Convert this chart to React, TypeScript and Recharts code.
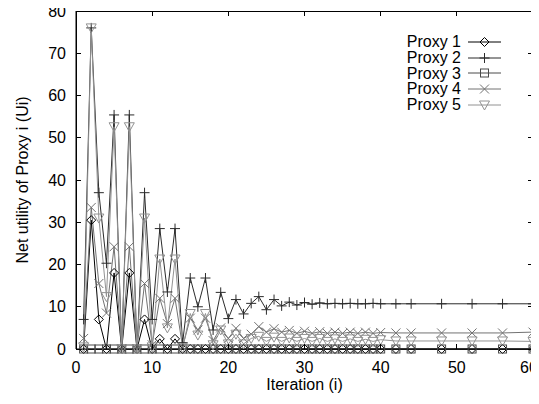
import React from 'react';
import { LineChart, Line, XAxis, YAxis, Label, ReferenceArea } from 'recharts';

// iterations sampled in the run (denser at the start)
const iterations = [
  1, 2, 3, 4, 5, 6, 7, 8, 9, 10, 11, 12, 13, 14, 15, 16, 17, 18, 19, 20,
  21, 22, 23, 24, 25, 26, 27, 28, 29, 30, 31, 32, 33, 34, 35, 36, 37, 38, 39, 40,
  42, 44, 48, 52, 56, 60,
];

const proxy1 = [
  0, 30.5, 7, 0, 18, 0, 18, 0, 7, 0, 2.4, 0, 2.4, 0, 0, 0, 0, 0, 0, 0,
  0, 0, 0, 0, 0, 0, 0, 0, 0, 0, 0, 0, 0, 0, 0, 0, 0, 0, 0, 0,
  0, 0, 0, 0, 0, 0,
];
const proxy2 = [
  7, 76, 37, 20.3, 55.4, 0, 55.4, 0, 37, 7, 28.5, 13.5, 28.5, 1.5, 16.8, 10, 16.8, 4.5, 13.4, 7.2,
  11.7, 8.3, 10.8, 12.4, 9.3, 11.7, 10.2, 11.1, 10.4, 11, 10.6, 10.9, 10.7, 10.8, 10.7, 10.8, 10.7, 10.7, 10.8, 10.7,
  10.7, 10.7, 10.7, 10.7, 10.7, 10.7,
];
const proxy3 = [
  0, 0, 0, 0, 0, 0, 0, 0, 0, 0, 0, 0, 0, 0, 0, 0, 0, 0, 0, 0,
  0, 0, 0, 0, 0, 0, 0, 0, 0, 0, 0, 0, 0, 0, 0, 0, 0, 0, 0, 0,
  0, 0, 0, 0, 0, 0,
];
const proxy4 = [
  2.5, 33.5, 15.5, 8.5, 24.2, 0, 24.2, 0, 15.5, 1, 12, 6, 12, 0.5, 7.3, 4.5, 7.3, 2, 5, 2.5,
  4.9, 2.5, 3.5, 5.3, 4, 4.8, 4, 4.4, 3.7, 4.2, 3.7, 4.1, 3.7, 4, 3.7, 4, 3.7, 4, 3.7, 3.9,
  3.8, 3.8, 3.8, 3.8, 3.8, 4,
];
const proxy5 = [
  0.5, 76, 31, 12.4, 52.6, 0, 52.6, 0, 31, 0.5, 21.3, 5, 21.3, 0.3, 8.4, 3.3, 8.4, 1, 4.5, 1.2,
  3.5, 1.2, 2.5, 3, 1.8, 2.8, 1.8, 2.6, 1.8, 2.5, 1.8, 2.5, 1.8, 2.4, 1.8, 2.4, 1.8, 2.3, 1.8, 2.2,
  1.9, 1.9, 1.9, 1.9, 1.9, 1.8,
];

const xTicks = [0, 10, 20, 30, 40, 50, 60];
const yTicks = [0, 10, 20, 30, 40, 50, 60, 70, 80];

const data = iterations.map((it, i) => ({
  it,
  p1: proxy1[i],
  p2: proxy2[i],
  p3: proxy3[i],
  p4: proxy4[i],
  p5: proxy5[i],
}));

const series = [
  { key: 'p1', name: 'Proxy 1', shape: 'diamond', color: '#000000' },
  { key: 'p2', name: 'Proxy 2', shape: 'plus', color: '#2b2b2b' },
  { key: 'p3', name: 'Proxy 3', shape: 'square', color: '#4a4a4a' },
  { key: 'p4', name: 'Proxy 4', shape: 'cross', color: '#727272' },
  { key: 'p5', name: 'Proxy 5', shape: 'triangle', color: '#929292' },
];

const W = 539;
const H = 404;
const MARGIN = { top: 11, right: 6, left: 0, bottom: 0 };
const PLOT_TOP = MARGIN.top;
const PLOT_RIGHT = W - MARGIN.right;
const FONT = '"Liberation Sans", Arial, Helvetica, sans-serif';
const TICK_LEN = 5;
const X_GAP = 8;
const Y_GAP = 10;

const Marker = ({ shape, cx, cy, color }: any) => {
  if (cx == null || cy == null) return null;
  switch (shape) {
    case 'diamond':
      return (
        <polygon
          points={`${cx},${cy - 4.5} ${cx + 4.5},${cy} ${cx},${cy + 4.5} ${cx - 4.5},${cy}`}
          fill="none" stroke={color} strokeWidth={1}
        />
      );
    case 'plus':
      return <path d={`M${cx - 5},${cy}H${cx + 5}M${cx},${cy - 5}V${cy + 5}`} stroke={color} strokeWidth={1} />;
    case 'square':
      return <rect x={cx - 4} y={cy - 4} width={8} height={8} fill="none" stroke={color} strokeWidth={1} />;
    case 'cross':
      return (
        <path
          d={`M${cx - 4.5},${cy - 4.5}L${cx + 4.5},${cy + 4.5}M${cx - 4.5},${cy + 4.5}L${cx + 4.5},${cy - 4.5}`}
          stroke={color} strokeWidth={1}
        />
      );
    default:
      return (
        <polygon
          points={`${cx - 5},${cy - 4} ${cx + 5},${cy - 4} ${cx},${cy + 5}`}
          fill="none" stroke={color} strokeWidth={1}
        />
      );
  }
};

// bottom tick: inward tick, mirrored tick on the top edge, and the label
const BottomTick = ({ x, y, payload }: any) => (
  <g shapeRendering="crispEdges">
    <line x1={x} x2={x} y1={y - X_GAP} y2={y - X_GAP - TICK_LEN} stroke="#000" />
    <line x1={x} x2={x} y1={PLOT_TOP} y2={PLOT_TOP + TICK_LEN} stroke="#000" />
    {/* keep the last label inside the picture */}
    <text x={Math.min(x, W - 10)} y={y} dy={16} textAnchor="middle" fontSize={16} fontFamily={FONT} fill="#000">
      {payload.value}
    </text>
  </g>
);

// left tick: inward tick, mirrored tick on the right edge, and the label
const LeftTick = ({ x, y, payload }: any) => (
  <g shapeRendering="crispEdges">
    <line x1={x + Y_GAP} x2={x + Y_GAP + TICK_LEN} y1={y} y2={y} stroke="#000" />
    <line x1={PLOT_RIGHT} x2={PLOT_RIGHT - TICK_LEN} y1={y} y2={y} stroke="#000" />
    <text x={x} y={y} dy={5.5} textAnchor="end" fontSize={16} fontFamily={FONT} fill="#000">
      {payload.value}
    </text>
  </g>
);

const Frame = ({ x, y, width, height }: any) => (
  <rect
    x={x}
    y={y}
    width={width}
    height={height}
    fill="none"
    stroke="#000"
    strokeWidth={1}
    shapeRendering="crispEdges"
  />
);

const LegendBox = () => (
  <div
    style={{
      position: 'absolute',
      top: 34,
      right: 38,
      fontFamily: FONT,
      fontSize: 16,
      color: '#000',
    }}
  >
    {series.map((s) => (
      <div
        key={s.key}
        style={{ display: 'flex', alignItems: 'center', justifyContent: 'flex-end', height: 15.8 }}
      >
        <span style={{ lineHeight: '15.8px' }}>{s.name}</span>
        <svg width={33} height={14} style={{ marginLeft: 7 }}>
          <line x1={0} x2={33} y1={7} y2={7} stroke={s.color} />
          <Marker shape={s.shape} cx={16.5} cy={7} color={s.color} />
        </svg>
      </div>
    ))}
  </div>
);

export default function App() {
  return (
    <div style={{ position: 'relative', width: W, height: H, margin: -8, background: '#fff' }}>
      <LineChart width={W} height={H} data={data} margin={MARGIN}>
        <XAxis
          dataKey="it"
          type="number"
          domain={[0, 60]}
          ticks={xTicks}
          height={55}
          axisLine={{ stroke: '#000' }}
          tickLine={false}
          tickSize={0}
          tickMargin={X_GAP}
          tick={<BottomTick />}
          interval={0}
        >
          <Label
            value="Iteration (i)"
            position="insideBottom"
            offset={14}
            style={{ fontSize: 16, fontFamily: FONT, fill: '#000' }}
          />
        </XAxis>
        <YAxis
          type="number"
          domain={[0, 80]}
          ticks={yTicks}
          width={76}
          axisLine={{ stroke: '#000' }}
          tickLine={false}
          tickSize={0}
          tickMargin={Y_GAP}
          tick={<LeftTick />}
          interval={0}
        >
          <Label
            value="Net utility of Proxy i (Ui)"
            angle={-90}
            position="insideLeft"
            offset={22}
            style={{ textAnchor: 'middle', fontSize: 16, fontFamily: FONT, fill: '#000' }}
          />
        </YAxis>
        {/* frame round the plot area */}
        <ReferenceArea
          x1={0}
          x2={60}
          y1={0}
          y2={80}
          fill="none"
          stroke="#000"
          ifOverflow="extendDomain"
          shape={<Frame />}
        />
        {series.map((s) => (
          <Line
            key={s.key}
            type="linear"
            dataKey={s.key}
            name={s.name}
            stroke={s.color}
            strokeWidth={1}
            isAnimationActive={false}
            activeDot={false}
            dot={(props: any) => (
              <Marker
                key={`${s.key}-${props.index}`}
                shape={s.shape}
                cx={props.cx}
                cy={props.cy}
                color={s.color}
              />
            )}
          />
        ))}
      </LineChart>
      <LegendBox />
    </div>
  );
}
